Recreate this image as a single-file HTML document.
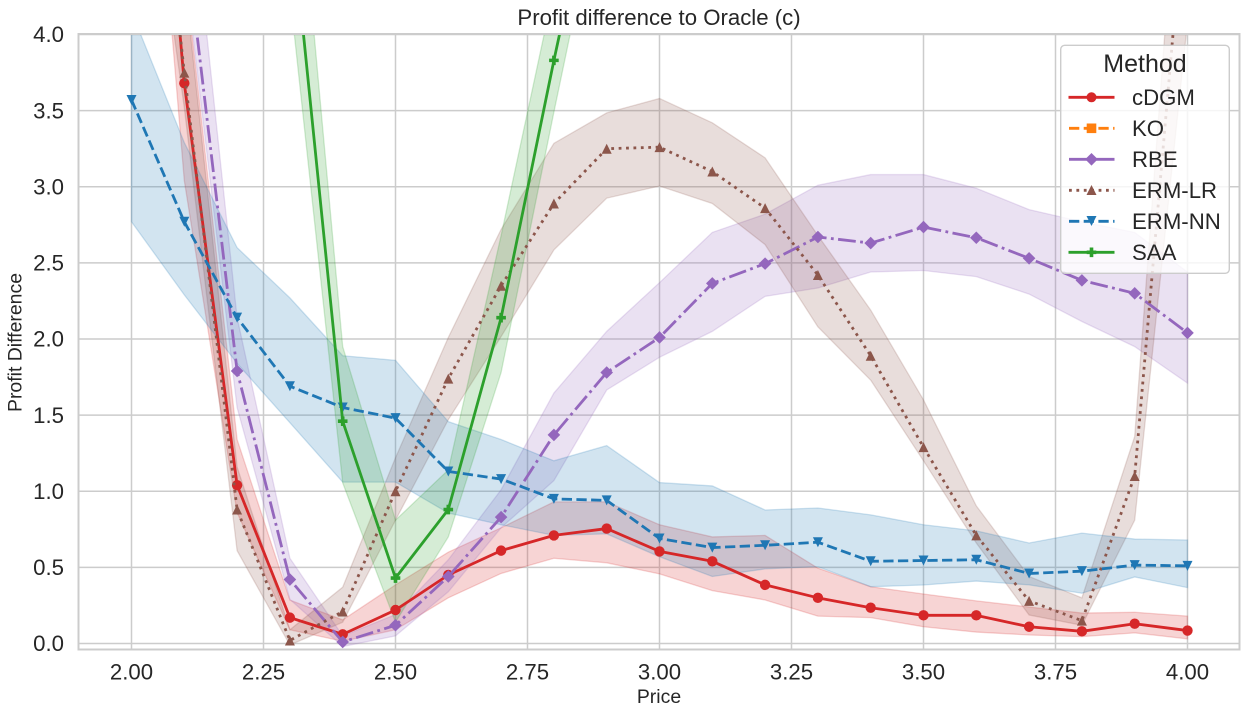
<!DOCTYPE html>
<html lang="en">
<head>
<meta charset="utf-8">
<title>Profit difference to Oracle (c)</title>
<style>
html,body{margin:0;padding:0;background:#fff;}
svg{display:block;}
text{font-family:"Liberation Sans",Arial,sans-serif;fill:#262626;}
</style>
</head>
<body>
<svg id="chart" xmlns="http://www.w3.org/2000/svg" width="1250" height="717" viewBox="0 0 1250 717">
  <defs>
    <clipPath id="plot-clip"><rect x="79" y="34.5" width="1160.5" height="615"></rect></clipPath>
  </defs>
  <rect x="79" y="34.5" width="1160.5" height="615" fill="#fff"></rect>
  <g id="grid"></g>
  <g id="bands" clip-path="url(#plot-clip)"></g>
  <g id="lines" clip-path="url(#plot-clip)"></g>
  <rect x="78.5" y="34" width="1161" height="615.5" fill="none" stroke="#ccc" stroke-width="2"></rect>
  <g id="ticks"></g>
  <text x="659" y="25" text-anchor="middle" font-size="22.2">Profit difference to Oracle (c)</text>
  <text x="659" y="703" text-anchor="middle" font-size="19.44">Price</text>
  <text transform="translate(21.5,342.5) rotate(-90)" text-anchor="middle" font-size="19.44">Profit Difference</text>

  <g>
    <rect x="1060.7" y="45.3" width="168.6" height="228" rx="4" ry="4" fill="#fff" fill-opacity="0.8" stroke="#ccc" stroke-width="1.4"></rect>
    <text x="1145" y="72" text-anchor="middle" font-size="25">Method</text>

    <g>
      <line x1="1068.5" y1="97.3" x2="1114.5" y2="97.3" stroke="#d62728" stroke-width="2.8"></line>
      <circle cx="1091.5" cy="97.3" r="5" fill="#d62728"></circle>
      <text x="1132" y="105" font-size="22.2">cDGM</text>
    </g>
    <g>
      <line x1="1069" y1="128.3" x2="1114.5" y2="128.3" stroke="#ff7f0e" stroke-width="2.8" stroke-dasharray="10.3 4.4"></line>
      <rect x="1086.7" y="123.5" width="9.6" height="9.6" fill="#ff7f0e"></rect>
      <text x="1132" y="136" font-size="22.2">KO</text>
    </g>
    <g>
      <line x1="1069" y1="159.3" x2="1114.5" y2="159.3" stroke="#9467bd" stroke-width="2.8"></line>
      <polygon points="1091.5,153 1097.8,159.3 1091.5,165.6 1085.2,159.3" fill="#9467bd"></polygon>
      <text x="1132" y="167" font-size="22.2">RBE</text>
    </g>
    <g>
      <line x1="1069" y1="190.3" x2="1114.5" y2="190.3" stroke="#8c564b" stroke-width="2.8" stroke-dasharray="2.8 4.6"></line>
      <polygon points="1091.5,185 1096.5,195 1086.5,195" fill="#8c564b"></polygon>
      <text x="1132" y="198" font-size="22.2">ERM-LR</text>
    </g>
    <g>
      <line x1="1069" y1="221.3" x2="1114.5" y2="221.3" stroke="#1f77b4" stroke-width="2.8" stroke-dasharray="10.3 4.4"></line>
      <polygon points="1086.5,216 1096.5,216 1091.5,226" fill="#1f77b4"></polygon>
      <text x="1132" y="229" font-size="22.2">ERM-NN</text>
    </g>
    <g>
      <line x1="1068.5" y1="252.3" x2="1114.5" y2="252.3" stroke="#2ca02c" stroke-width="2.8"></line>
      <polygon points="1089.7,247.5 1093.3,247.5 1093.3,250.5 1096.3,250.5 1096.3,254.1 1093.3,254.1 1093.3,257.1 1089.7,257.1 1089.7,254.1 1086.7,254.1 1086.7,250.5 1089.7,250.5" fill="#2ca02c"></polygon>
      <text x="1132" y="260" font-size="22.2">SAA</text>
    </g>
  </g>
</svg>

<script>
// ---- chart data ----
const prices = [2.0,2.1,2.2,2.3,2.4,2.5,2.6,2.7,2.8,2.9,3.0,3.1,3.2,3.3,3.4,3.5,3.6,3.7,3.8,3.9,4.0];

const cdgmMean  = [7.63,3.68,1.04,0.17,0.06,0.22,0.45,0.61,0.71,0.755,0.605,0.54,0.385,0.30,0.235,0.185,0.185,0.11,0.08,0.13,0.085];
const cdgmUpper = [8.5,4.45,1.34,0.285,0.155,0.385,0.60,0.76,0.93,0.93,0.78,0.70,0.71,0.495,0.373,0.325,0.28,0.24,0.20,0.205,0.18];
const cdgmLower = [7.2,3.04,0.86,0.09,0.015,0.09,0.30,0.46,0.56,0.53,0.457,0.347,0.286,0.18,0.17,0.11,0.075,0.056,0.045,0.07,0.03];

const rbeMean  = [8.4,4.7,1.79,0.42,0.01,0.12,0.44,0.83,1.37,1.78,2.01,2.365,2.495,2.67,2.63,2.735,2.665,2.53,2.385,2.30,2.04];
const rbeUpper = [9.5,5.38,2.14,0.56,0.05,0.19,0.55,1.01,1.645,2.05,2.37,2.70,2.82,3.01,3.08,3.08,2.99,2.85,2.77,2.70,2.44];
const rbeLower = [8.0,4.47,1.55,0.29,-0.02,0.05,0.34,0.76,1.07,1.665,1.88,2.05,2.28,2.335,2.44,2.45,2.41,2.295,2.115,1.95,1.71];

const ermLrMean  = [6.9,3.75,0.88,0.02,0.21,1.0,1.74,2.35,2.89,3.25,3.26,3.10,2.86,2.42,1.89,1.29,0.71,0.28,0.15,1.10,5.1];
const ermLrUpper = [8.0,4.38,1.16,0.09,0.37,1.22,2.01,2.72,3.285,3.485,3.58,3.42,3.19,2.68,2.19,1.60,0.904,0.44,0.30,1.36,6.0];
const ermLrLower = [6.0,3.52,0.61,-0.01,0.14,0.81,1.47,2.016,2.585,2.925,3.005,2.89,2.62,2.08,1.73,1.20,0.66,0.187,0.12,0.81,4.08];

const ermNnMean  = [3.57,2.77,2.14,1.69,1.55,1.48,1.13,1.08,0.95,0.94,0.69,0.63,0.645,0.665,0.54,0.545,0.55,0.46,0.475,0.515,0.51];
const ermNnUpper = [4.15,3.29,2.60,2.27,1.89,1.86,1.457,1.34,1.20,1.30,1.057,1.035,0.877,0.89,0.845,0.78,0.74,0.66,0.725,0.686,0.68];
const ermNnLower = [2.77,2.29,1.84,1.45,1.06,1.06,0.857,0.78,0.71,0.72,0.57,0.44,0.49,0.505,0.373,0.384,0.41,0.385,0.33,0.437,0.367];

const saaMean  = [null,null,null,4.88,1.46,0.43,0.88,2.14,3.83,5.43,null,null,null,null,null,null,null,null,null,null,null];
const saaUpper = [null,null,null,5.74,1.95,0.81,1.14,2.68,4.30,5.80,null,null,null,null,null,null,null,null,null,null,null];
const saaLower = [null,null,null,4.27,1.055,0.14,0.70,1.78,3.49,5.15,null,null,null,null,null,null,null,null,null,null,null];

const xTickLabels = ['2.00','2.25','2.50','2.75','3.00','3.25','3.50','3.75','4.00'];
const yTickLabels = ['0.0','0.5','1.0','1.5','2.0','2.5','3.0','3.5','4.0'];

// ---- axis functions ----
function xScale(v){ return 131.5 + (v - 2) * 528; }
function yScale(v){ return 643.5 - v * 152.25; }

const NS = 'http://www.w3.org/2000/svg';
function svgEl(tag){ return document.createElementNS(NS, tag); }

const gridG = document.getElementById('grid');
const ticksG = document.getElementById('ticks');
const bandsG = document.getElementById('bands');
const linesG = document.getElementById('lines');

// grid and tick labels
xTickLabels.forEach(function(label){
  const px = xScale(Number(label));
  const g = svgEl('line');
  
  
  g.setAttribute('x1', px); g.setAttribute('x2', px);
  g.setAttribute('y1', 34); g.setAttribute('y2', 649.5);
  g.setAttribute('stroke', '#ccc'); g.setAttribute('stroke-width', 1.5);
  gridG.appendChild(g);
  const t = svgEl('text');
  
  
  t.setAttribute('x', px); t.setAttribute('y', 679.5);
  t.setAttribute('text-anchor', 'middle'); t.setAttribute('font-size', 22.2);
  t.textContent = label;
  ticksG.appendChild(t);
});
yTickLabels.forEach(function(label){
  const py = yScale(Number(label));
  const g = svgEl('line');
  
  
  g.setAttribute('x1', 78.5); g.setAttribute('x2', 1239.5);
  g.setAttribute('y1', py); g.setAttribute('y2', py);
  g.setAttribute('stroke', '#ccc'); g.setAttribute('stroke-width', 1.5);
  gridG.appendChild(g);
  const t = svgEl('text');
  
  
  t.setAttribute('x', 64); t.setAttribute('y', py + 7.7);
  t.setAttribute('text-anchor', 'end'); t.setAttribute('font-size', 22.2);
  t.textContent = label;
  ticksG.appendChild(t);
});

// marker shapes, relative to the data point
function markerPoints(shape){
  if (shape === 'diamond') return [[0,-6.3],[6.3,0],[0,6.3],[-6.3,0]];
  if (shape === 'up') return [[0,-5],[5,5],[-5,5]];
  if (shape === 'down') return [[-5,-5],[5,-5],[0,5]];
  if (shape === 'plus') return [[-1.8,-4.8],[1.8,-4.8],[1.8,-1.8],[4.8,-1.8],[4.8,1.8],[1.8,1.8],[1.8,4.8],[-1.8,4.8],[-1.8,1.8],[-4.8,1.8],[-4.8,-1.8],[-1.8,-1.8]];
  return [];
}

function drawSeries(name, mean, upper, lower, color, dash, shape){
  // band
  const up = [], lo = [], pts = [];
  prices.forEach(function(p, i){
    if (mean[i] === null) return;
    up.push(xScale(p) + ',' + yScale(upper[i]));
    lo.unshift(xScale(p) + ',' + yScale(lower[i]));
    pts.push([xScale(p), yScale(mean[i])]);
  });
  const band = svgEl('polygon');
  
  
  band.setAttribute('points', up.concat(lo).join(' '));
  band.setAttribute('fill', color);
  band.setAttribute('fill-opacity', 0.2);
  band.setAttribute('stroke', color);
  band.setAttribute('stroke-opacity', 0.2);
  band.setAttribute('stroke-width', 1.3);
  bandsG.appendChild(band);

  // line
  const line = svgEl('polyline');
  
  
  line.setAttribute('points', pts.map(function(q){ return q[0] + ',' + q[1]; }).join(' '));
  line.setAttribute('fill', 'none');
  line.setAttribute('stroke', color);
  line.setAttribute('stroke-width', 2.8);
  line.setAttribute('stroke-linejoin', 'round');
  if (dash) line.setAttribute('stroke-dasharray', dash);
  linesG.appendChild(line);

  // markers
  pts.forEach(function(q){
    let m;
    if (shape === 'circle') {
      m = svgEl('circle');
      m.setAttribute('cx', q[0]);
      m.setAttribute('cy', q[1]);
      m.setAttribute('r', 5.2);
    } else {
      m = svgEl('polygon');
      m.setAttribute('points', markerPoints(shape).map(function(o){ return (q[0] + o[0]) + ',' + (q[1] + o[1]); }).join(' '));
    }
    
    
    m.setAttribute('fill', color);
    linesG.appendChild(m);
  });
}

// bands sit below all lines; series are added in legend order
drawSeries('cdgm', cdgmMean, cdgmUpper, cdgmLower, '#d62728', null, 'circle');
drawSeries('rbe', rbeMean, rbeUpper, rbeLower, '#9467bd', '17.8 4.4 2.8 4.4', 'diamond');
drawSeries('erm-lr', ermLrMean, ermLrUpper, ermLrLower, '#8c564b', '2.8 4.6', 'up');
drawSeries('erm-nn', ermNnMean, ermNnUpper, ermNnLower, '#1f77b4', '10.3 4.4', 'down');
drawSeries('saa', saaMean, saaUpper, saaLower, '#2ca02c', null, 'plus');
</script>
</body>
</html>
